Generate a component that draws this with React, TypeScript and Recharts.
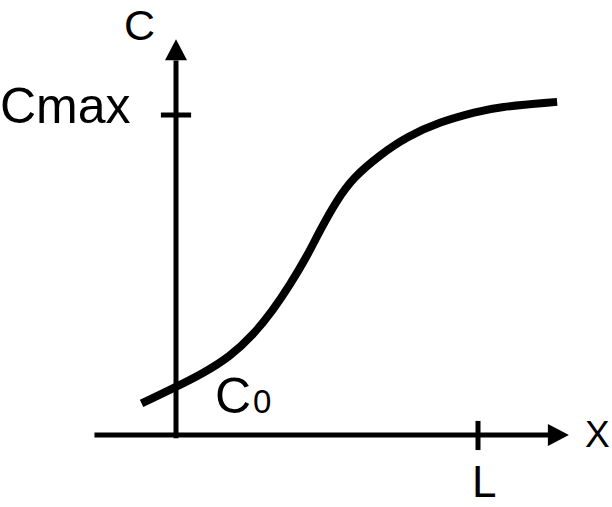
import { LineChart, Line, XAxis, YAxis, ReferenceLine, ReferenceDot, Customized } from 'recharts';

// position along the channel, L = 1
const xs = [-0.114, 0.002, 0.09, 0.179, 0.256, 0.322, 0.377, 0.433, 0.477, 0.532, 0.587, 0.675, 0.764, 0.874, 0.996, 1.063, 1.262];
// concentration, Cmax = 1
const cs = [0.099, 0.151, 0.193, 0.245, 0.313, 0.391, 0.469, 0.557, 0.64, 0.733, 0.805, 0.875, 0.932, 0.979, 1.01, 1.025, 1.041];

const X_DOMAIN: [number, number] = [-0.5828, 1.4437];
const Y_DOMAIN: [number, number] = [-0.225, 1.3594];

const data = xs.map((x, i) => ({ x, c: cs[i] }));

const FONT = '"Liberation Sans", Arial, sans-serif';

const upArrow = (p: any) => (
  <polygon points={`${p.cx},${p.cy} ${p.cx - 11},${p.cy + 21} ${p.cx + 11},${p.cy + 21}`} fill="#000" />
);
const rightArrow = (p: any) => (
  <polygon points={`${p.cx},${p.cy} ${p.cx - 21},${p.cy - 11} ${p.cx - 21},${p.cy + 11}`} fill="#000" />
);

const Labels = () => (
  <g fontFamily={FONT} fill="#000">
    <text x={124} y={40} fontSize={43}>C</text>
    <text x={0} y={123} fontSize={50}>Cmax</text>
    <text x={585} y={447} fontSize={37}>X</text>
    <text x={472} y={497} fontSize={44}>L</text>
    <text x={215} y={413} fontSize={50}>
      C<tspan fontSize={33} dx={2}>0</tspan>
    </text>
  </g>
);

export default function App() {
  return (
    <div style={{ position: 'fixed', top: 0, left: 0, background: '#fff' }}>
      <LineChart width={612} height={507} data={data} margin={{ top: 0, right: 0, bottom: 0, left: 0 }}>
        <XAxis type="number" dataKey="x" domain={X_DOMAIN} allowDataOverflow hide />
        <YAxis type="number" domain={Y_DOMAIN} allowDataOverflow hide />
        {/* axes */}
        <ReferenceLine segment={[{ x: -0.27, y: 0 }, { x: 1.24, y: 0 }]} stroke="#000" strokeWidth={5} ifOverflow="visible" />
        <ReferenceLine segment={[{ x: 0, y: -0.01 }, { x: 0, y: 1.17 }]} stroke="#000" strokeWidth={5} ifOverflow="visible" />
        {/* ticks */}
        <ReferenceLine segment={[{ x: 1, y: -0.047 }, { x: 1, y: 0.044 }]} stroke="#000" strokeWidth={5} ifOverflow="visible" />
        <ReferenceLine segment={[{ x: -0.05, y: 1 }, { x: 0.05, y: 1 }]} stroke="#000" strokeWidth={5} ifOverflow="visible" />
        <ReferenceDot x={0} y={1.237} r={0} shape={upArrow} ifOverflow="visible" />
        <ReferenceDot x={1.301} y={0} r={0} shape={rightArrow} ifOverflow="visible" />
        <Line
          type="basis"
          dataKey="c"
          stroke="#000"
          strokeWidth={8}
          dot={false}
          activeDot={false}
          isAnimationActive={false}
        />
        <Customized component={Labels} />
      </LineChart>
    </div>
  );
}
